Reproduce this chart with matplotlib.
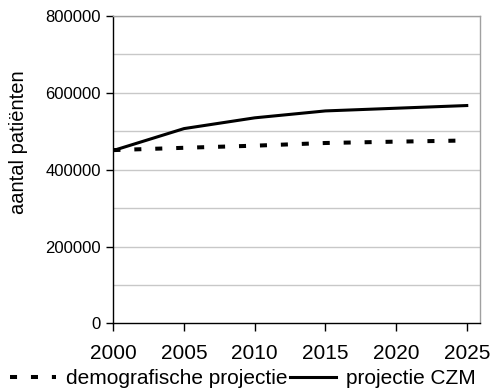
"""
Projected number of patients, 2000-2025: demographic projection vs CZM projection.
"""

import matplotlib as mpl
import matplotlib.pyplot as plt

mpl.rcParams.update({
    "font.family": ["Liberation Sans", "DejaVu Sans"],
    "font.size": 12,
})

years = [2000, 2005, 2010, 2015, 2020, 2025]
demografisch = [451000, 457000, 462500, 469500, 473000, 476000]
czm = [450000, 507000, 535000, 553000, 560000, 567000]

x_ticks = [2000, 2005, 2010, 2015, 2020, 2025]
y_major = [0, 200000, 400000, 600000, 800000]
y_grid = [100000, 200000, 300000, 400000, 500000, 600000, 700000, 800000]

fig = plt.figure(figsize=(4.93, 3.91), dpi=100)
ax = fig.add_axes([0.230, 0.173, 0.744, 0.786])

# light horizontal gridlines every 100000
for g in y_grid:
    ax.axhline(g, color="#c8c8c8", lw=1.0, zorder=1)

ax.plot(years, demografisch, color="black", lw=2.9,
        linestyle=(0, (1.75, 3.45)), dash_capstyle="butt",
        label="demografische projectie", zorder=3)
ax.plot(years, czm, color="black", lw=2.2,
        label="projectie CZM", zorder=3)

ax.set_xlim(2000, 2025.95)
ax.set_ylim(0, 800000)
ax.set_xticks(x_ticks)
ax.set_yticks(y_major)

ax.tick_params(axis="x", direction="out", length=6, width=1,
               labelsize=15, pad=9)
ax.tick_params(axis="y", direction="out", length=5, width=1,
               labelsize=12, pad=4)

for side in ("top", "right"):
    ax.spines[side].set_color("#a0a0a0")
    ax.spines[side].set_linewidth(1.0)
for side in ("left", "bottom"):
    ax.spines[side].set_color("black")
    ax.spines[side].set_linewidth(1.0)

ax.set_ylabel("aantal patiënten", fontsize=14.5)
ax.yaxis.set_label_coords(-0.233, 0.59)

fig.legend(loc="center", bbox_to_anchor=(0.493, 0.031), ncol=2,
           frameon=False, fontsize=15, handlelength=2.2,
           handletextpad=0.5, columnspacing=0.1, borderpad=0,
           borderaxespad=0)

fig.savefig("out.png", dpi=100)
